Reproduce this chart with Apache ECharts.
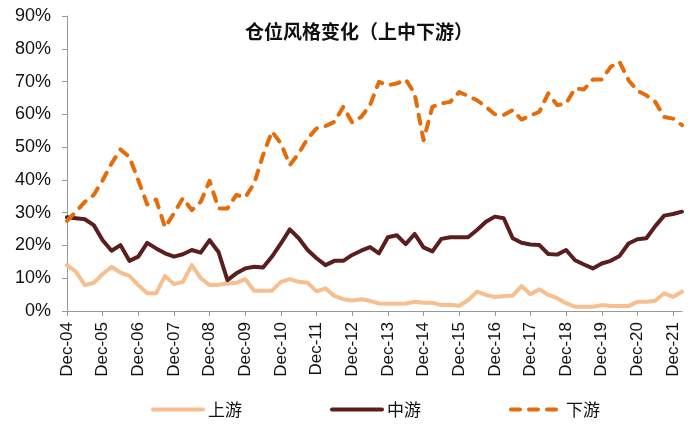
<!DOCTYPE html>
<html>
<head>
<meta charset="utf-8">
<script src="https://cdn.jsdelivr.net/npm/echarts@6/dist/echarts.min.js"></script>
<style>html,body{margin:0;padding:0;background:#fff;}#c{width:700px;height:429px;}</style>
</head>
<body>
<div id="c"></div>
<script>
// Quarterly categories Dec-04 .. Mar-22
const months = ['Mar', 'Jun', 'Sep', 'Dec'];
const categories = ['Dec-04'];
for (let y = 5; y <= 22; y++) {
  for (const m of months) {
    const lbl = m + '-' + String(y).padStart(2, '0');
    categories.push(lbl);
    if (lbl === 'Mar-22') break;
  }
}

const seriesNames = ['上游', '中游', '下游'];

// 上游 (%)
const upstream = [14.0, 12.0, 7.9, 8.6, 11.3, 13.5, 11.7, 10.7, 7.9, 5.4,
  5.4, 10.7, 8.2, 8.9, 14.0, 10.0, 7.9, 8.0, 8.4, 8.6,
  9.7, 6.2, 6.2, 6.2, 8.9, 9.7, 8.9, 8.6, 6.0, 6.9,
  4.6, 3.6, 3.2, 3.6, 3.1, 2.3, 2.2, 2.2, 2.3, 2.8,
  2.5, 2.5, 1.8, 1.9, 1.6, 3.3, 5.9, 4.9, 4.3, 4.5,
  4.7, 7.6, 5.1, 6.6, 4.9, 3.9, 2.4, 1.3, 1.3, 1.3,
  1.8, 1.5, 1.5, 1.5, 2.8, 2.8, 3.1, 5.4, 4.3, 5.9];

// 中游 (%)
const midstream = [28.6, 28.3, 28.0, 26.2, 21.6, 18.4, 20.1, 15.3, 16.6, 20.8,
  19.1, 17.6, 16.6, 17.3, 18.6, 17.8, 21.6, 18.0, 9.4, 11.5,
  13.0, 13.5, 13.3, 16.6, 20.6, 24.9, 22.2, 18.6, 16.1, 14.0,
  15.3, 15.3, 17.1, 18.4, 19.5, 17.6, 22.5, 23.1, 20.4, 23.5,
  19.4, 18.2, 22.0, 22.5, 22.5, 22.5, 24.7, 27.2, 28.8, 28.3,
  22.2, 20.8, 20.3, 20.1, 17.4, 17.2, 18.6, 15.5, 14.2, 13.0,
  14.5, 15.3, 16.8, 20.6, 21.9, 22.2, 25.9, 29.1, 29.6, 30.3];

// 下游 (%)
const downstream = [27.5, 30.3, 33.3, 35.4, 39.9, 45.0, 49.3, 47.0, 39.9, 32.5,
  34.0, 25.5, 29.8, 34.4, 30.8, 33.3, 39.7, 31.3, 31.3, 35.4,
  34.7, 38.9, 47.6, 54.8, 51.1, 44.5, 48.1, 52.6, 55.7, 56.4,
  57.7, 62.3, 57.5, 59.2, 62.8, 69.9, 68.9, 69.4, 70.6, 66.4,
  52.1, 62.3, 63.3, 63.8, 66.8, 65.6, 64.3, 62.3, 60.0, 59.8,
  61.3, 58.4, 59.6, 60.8, 66.4, 62.8, 63.3, 67.9, 67.6, 70.6,
  70.6, 74.5, 76.0, 70.4, 67.2, 65.8, 63.8, 59.2, 58.7, 56.7];

const yTicks = [0, 10, 20, 30, 40, 50, 60, 70, 80, 90];

const colors = ['#F7BE8F', '#5A1E1E', '#E46C0A'];
const font = '"Liberation Sans", Arial, "Noto Sans CJK SC", sans-serif';

const chart = echarts.init(document.getElementById('c'));
chart.setOption({
  animation: false,
  backgroundColor: '#fff',
  title: {
    text: '仓位风格变化（上中下游）',
    left: 354, top: 17, textAlign: 'center',
    textStyle: { fontFamily: '"Noto Sans CJK SC", sans-serif', fontSize: 19, fontWeight: 'bold', color: '#111' }
  },
  legend: {
    left: 146, top: 396, itemGap: 88, itemWidth: 50, itemHeight: 10,
    itemStyle: { opacity: 0 },
    lineStyle: { width: 4, cap: 'round' },
    textStyle: { fontFamily: '"Noto Sans CJK SC", sans-serif', fontSize: 17, color: '#111' },
    data: seriesNames
  },
  grid: { left: 67, right: 18, top: 16, bottom: 118 },
  xAxis: {
    type: 'category', data: categories, boundaryGap: false,
    axisLine: { lineStyle: { color: '#999', width: 1 } },
    axisTick: { interval: 3, length: 5, lineStyle: { color: '#999' } },
    axisLabel: { interval: 3, rotate: 90, fontFamily: font, fontSize: 17, color: '#111', margin: 11 }
  },
  yAxis: {
    type: 'value', min: yTicks[0], max: yTicks[yTicks.length - 1], interval: 10,
    splitLine: { show: false },
    axisLine: { show: true, lineStyle: { color: '#999', width: 1 } },
    axisTick: { show: true, length: 5, lineStyle: { color: '#999' } },
    axisLabel: { formatter: '{value}%', fontFamily: font, fontSize: 18, color: '#111', margin: 16 }
  },
  series: [
    { name: seriesNames[0], type: 'line', data: upstream, symbol: 'none', color: colors[0],
      lineStyle: { width: 4, color: colors[0], join: 'round', cap: 'round' } },
    { name: seriesNames[1], type: 'line', data: midstream, symbol: 'none', color: colors[1],
      lineStyle: { width: 4, color: colors[1], join: 'round', cap: 'round' } },
    { name: seriesNames[2], type: 'line', data: downstream, symbol: 'none', color: colors[2],
      lineStyle: { width: 4, color: colors[2], type: [9, 9], cap: 'round', join: 'round' } }
  ]
});
</script>
</body>
</html>
